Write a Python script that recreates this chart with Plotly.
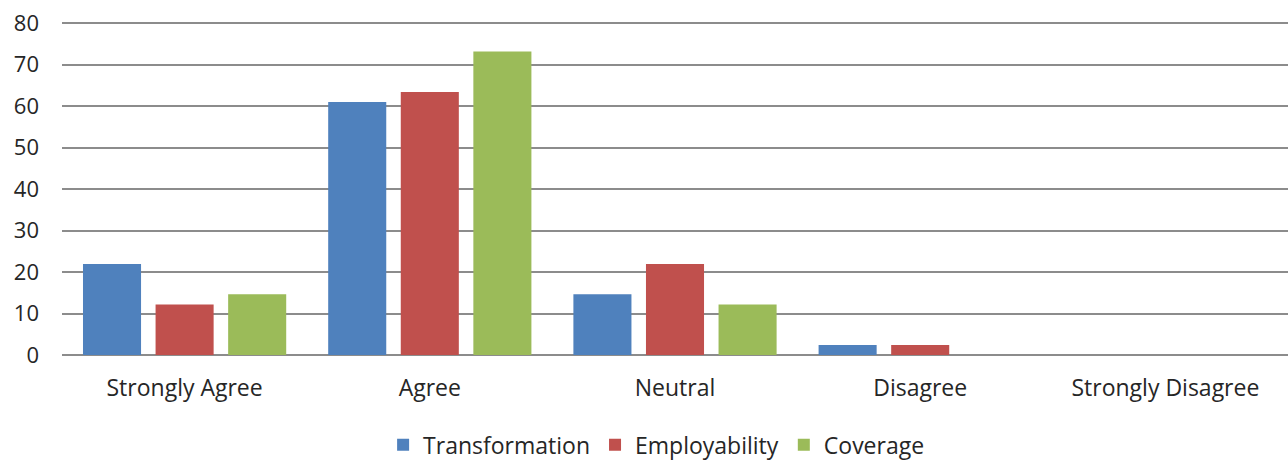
import plotly.graph_objects as go

categories = ["Strongly Agree", "Agree", "Neutral", "Disagree", "Strongly Disagree"]
transformation = [21.95, 60.98, 14.63, 2.44, 0]
employability = [12.20, 63.41, 21.95, 2.44, 0]
coverage = [14.63, 73.17, 12.20, 0, 0]
series_names = ["Transformation", "Employability", "Coverage"]
colors = ["#4F81BD", "#C0504D", "#9BBB59"]

font_family = "'Open Sans', sans-serif"
fig = go.Figure()
for name, vals, col in zip(series_names, [transformation, employability, coverage], colors):
    fig.add_trace(go.Bar(x=categories, y=vals, name=name,
                         marker=dict(color=col, line=dict(width=0))))

fig.update_layout(
    width=1288, height=461,
    margin=dict(l=62, r=0, t=22, b=106, autoexpand=False),
    plot_bgcolor="white", paper_bgcolor="white",
    barmode="group", bargap=0.112, bargroupgap=0.2,
    font=dict(family=font_family, size=23, color="#262626"),
    legend=dict(orientation="h", x=0.485, xanchor="center", y=-0.27, yanchor="middle",
                font=dict(size=23), itemwidth=30, traceorder="normal"),
    showlegend=True,
)
fig.update_yaxes(range=[0, 80.3], dtick=10, showgrid=True, gridcolor="#8C8C8C", gridwidth=2,
                 zeroline=True, zerolinecolor="#8C8C8C", zerolinewidth=2, automargin=False,
                 showline=False, ticklabelstandoff=22, ticklabeloverflow="allow",
                 tickfont=dict(size=22))
fig.update_xaxes(showgrid=False, showline=False, ticks="", ticklabelstandoff=17, automargin=False,
                 ticklabeloverflow="allow", tickfont=dict(size=23))

fig.write_html(
    "out.html",
    config={"displayModeBar": False},
    post_script="document.body.style.margin='0';document.body.style.overflow='hidden';",
)
